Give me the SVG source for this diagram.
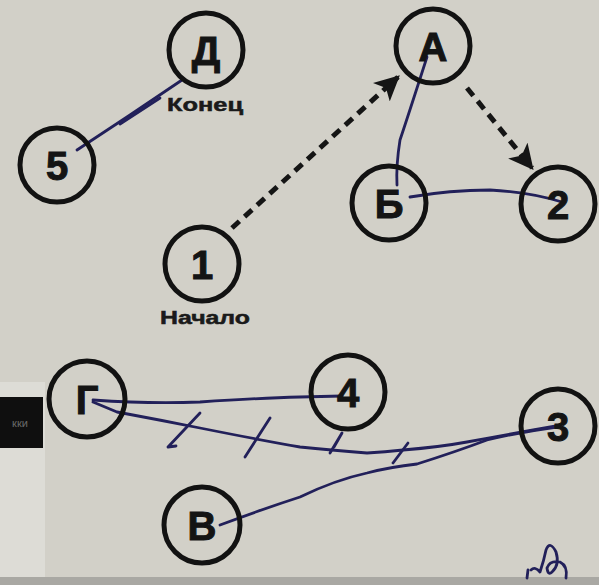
<svg xmlns="http://www.w3.org/2000/svg" width="599" height="585" viewBox="0 0 599 585">
  <defs>
    <style>
      .node circle { fill: none; stroke: #121212; stroke-width: 5; }
      .node text { font-family: "Liberation Sans", Arial, sans-serif; font-weight: bold; font-size: 40px; fill: #141414; stroke: #141414; stroke-width: 1; text-anchor: middle; }
      .caption { font-family: "Liberation Sans", Arial, sans-serif; font-weight: bold; font-size: 18px; fill: #1a1a1a; stroke: #1a1a1a; stroke-width: 0.5; text-anchor: middle; }
      .dash { fill: none; stroke: #151515; stroke-width: 5; stroke-dasharray: 10 7; }
      .ink { fill: none; stroke: #22205a; stroke-width: 2.8; stroke-linecap: round; stroke-linejoin: round; }
    </style>
    <marker id="head" viewBox="0 0 10 10" refX="9" refY="5" markerWidth="5" markerHeight="5" markerUnits="strokeWidth" orient="auto">
      <path d="M0,0 L10,5 L0,10 L2.5,5 Z" fill="#151515"/>
    </marker>
  </defs>

  <!-- paper -->
  <rect x="0" y="0" width="599" height="585" fill="#d2d0c8"/>
  <rect x="0" y="382" width="45" height="203" fill="#dddcd6"/>
  <rect x="0" y="397" width="43" height="51" fill="#0f0f0f"/>
  <text x="20" y="427" font-family="Liberation Sans, Arial, sans-serif" font-size="11" fill="#6a6a6a" text-anchor="middle">кки</text>
  <rect x="0" y="577" width="599" height="8" fill="#a9a8a3"/>

  <!-- connectors -->
  <g id="connectors">
    <line class="dash" x1="232" y1="228" x2="398" y2="77" marker-end="url(#head)"/>
    <line class="dash" x1="467" y1="88" x2="532" y2="168" marker-end="url(#head)"/>

    <path class="ink" d="M77,150 L130,115 L182,80"/>
    <path class="ink" d="M120,124 L160,98" stroke-width="1.4"/>
    <path class="ink" d="M427,57 Q410,110 400,140 Q396,165 397,185"/>
    <path class="ink" d="M410,197 Q450,190 490,190 Q530,192 562,202"/>

    <path class="ink" d="M93,400 Q150,404 200,402 Q260,398 300,397 L342,396"/>
    <path class="ink" d="M93,402 L117,412 Q160,420 200,428 Q260,440 300,447 Q330,450 367,453 Q385,452 403,450 Q440,447 467,442 Q510,434 556,426"/>
    <path class="ink" d="M220,525 Q260,510 300,497 Q335,480 367,473 Q390,467 417,464 Q455,452 487,440 Q520,432 557,427"/>

    <path class="ink" d="M168,447 L200,413 M168,447 L176,446"/>
    <path class="ink" d="M245,457 L270,418"/>
    <path class="ink" d="M330,453 L342,433 Q338,440 334,447"/>
    <path class="ink" d="M393,463 L408,443"/>
  </g>

  <!-- nodes -->
  <g id="node-D" class="node"><circle cx="206" cy="50" r="37"/><text x="206" y="65">Д</text></g>
  <text class="caption" x="205" y="111" textLength="76" lengthAdjust="spacingAndGlyphs">Конец</text>
  <g id="node-5" class="node"><circle cx="57" cy="165" r="37"/><text x="57" y="180">5</text></g>
  <g id="node-A" class="node"><circle cx="433" cy="46" r="37"/><text x="433" y="61">А</text></g>
  <g id="node-B" class="node"><circle cx="389" cy="203" r="37"/><text x="389" y="218">Б</text></g>
  <g id="node-2" class="node"><circle cx="558" cy="204" r="37"/><text x="558" y="219">2</text></g>
  <g id="node-1" class="node"><circle cx="202" cy="264" r="37"/><text x="202" y="279">1</text></g>
  <text class="caption" x="205" y="324" textLength="90" lengthAdjust="spacingAndGlyphs">Начало</text>
  <g id="node-G" class="node"><circle cx="87" cy="399" r="38"/><text x="87" y="414">Г</text></g>
  <g id="node-4" class="node"><circle cx="348" cy="392" r="37"/><text x="348" y="407">4</text></g>
  <g id="node-3" class="node"><circle cx="558" cy="426" r="37"/><text x="558" y="441">3</text></g>
  <g id="node-V" class="node"><circle cx="202" cy="525" r="38"/><text x="202" y="540">В</text></g>

  <!-- pen mark in the corner -->
  <path class="ink" d="M527,578 L528,570 M531,570 Q535,566 540,572 Q544,560 546,550 Q550,540 556,552 Q560,565 552,572 Q548,576 547,568 Q550,560 560,562 Q568,566 566,578" stroke-width="2"/>
</svg>
